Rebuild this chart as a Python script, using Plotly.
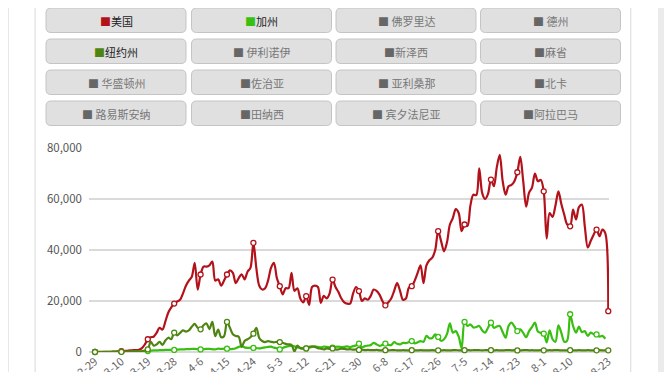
import plotly.graph_objects as go
import pandas as pd

# ---------------- data ----------------
dates = ["2-29"] + [f"{t.month}-{t.day}" for t in pd.date_range("2020-03-02", "2020-08-23")]

us = [
    20, 30, 40, 60, 80, 100, 120, 180, 250, 300,
    400, 500, 650, 700, 750, 900, 1500, 3000, 5000, 5800,
    6000, 7500, 9500, 8800, 12000, 15500, 17500, 19000, 19800, 20500,
    23000, 26000, 28000, 29500, 35000, 24500, 30400, 33500, 33500, 34000,
    35500, 28000, 28500, 26000, 28000, 30400, 32000, 31000, 27000, 29000,
    30500, 28500, 31500, 33000, 42800, 33000, 26000, 24500, 25000, 28000,
    33000, 35000, 29000, 25800, 22600, 25000, 25000, 31000, 24000, 25000,
    21000, 19500, 21900, 18500, 25500, 26000, 25500, 19300, 22000, 21000,
    23000, 28400, 25500, 23500, 21000, 19500, 19000, 19000, 23000, 25500,
    23900, 20000, 21000, 20500, 22000, 24500, 24000, 22500, 20000, 18300,
    19500, 21000, 24000, 27000, 24000, 20500, 21000, 25200, 25800, 28000,
    31000, 34000, 27000, 34000, 36000, 37000, 40000, 47400, 43500, 39500,
    43000, 50000, 52500, 56000, 54500, 47400, 50000, 49500, 57500, 61700,
    61500, 72000, 62400, 60000, 62000, 67600, 65000, 72500, 77300, 67000,
    61700, 65000, 65500, 67000, 70500, 76500, 67000, 57000, 62500, 64500,
    70000, 67000, 67500, 63000, 44500, 54500, 53000, 57500, 63000, 58000,
    53800, 50000, 49300, 55800, 52000, 56800, 57800, 49300, 41000, 43500,
    46000, 48000, 45400, 48000, 46500, 16000]

ca = [
    0, 0, 0, 10, 10, 20, 20, 30, 30, 50,
    60, 80, 100, 120, 150, 200, 250, 300, 400, 500,
    600, 650, 700, 750, 800, 800, 850, 800, 900, 1000,
    1000, 1100, 1100, 1200, 1200, 1100, 1000, 1100, 1200, 1200,
    1100, 1000, 1300, 1200, 1300, 1300, 1100, 1200, 1500, 2000,
    2300, 1800, 1600, 1700, 1600, 1500, 1400, 1600, 1800, 2000,
    2100, 1700, 1500, 1000, 1600, 2000, 2300, 2400, 2200, 1800,
    1600, 1500, 1400, 1700, 2000, 2200, 2000, 1800, 2100, 2000,
    1800, 1700, 2000, 2100, 1900, 2000, 2200, 1900, 2300, 2600,
    3300, 1800, 2300, 2500, 2700, 3600, 3000, 2400, 2800, 3300,
    2800, 2700, 3900, 3200, 3000, 3600, 3500, 3900, 4300, 3400,
    3800, 4300, 4000, 6300, 5400, 5500, 6900, 5900, 4400, 5000,
    7000, 11200, 7600, 8200, 6000, 1500, 11800, 10200, 10800, 9600,
    9800, 10200, 8500, 7600, 9500, 11500, 9500, 10000, 10200, 7800,
    5600, 10200, 11500, 10000, 8200, 8900, 7500, 5800, 8200, 9800,
    11500, 8000, 7500, 7200, 3800, 8500, 5000, 4000, 10500, 7500,
    4000, 4500, 14800, 10200, 7600, 10000, 7800, 8200, 6300, 7600,
    7000, 6900, 6000, 6300, 5200, None]

ny = [
    0, 0, 0, 0, 0, 0, 10, 20, 30, 50,
    80, 100, 150, 200, 250, 300, 400, 600, 1000, 4000,
    2500, 3000, 4000, 2800, 4500, 5600, 5000, 7600, 6500, 7500,
    8500, 8000, 8500, 9900, 11000, 9500, 8900, 10500, 11200, 9000,
    11800, 6200, 8800, 5800, 6200, 11800, 9500, 7000, 6300, 6000,
    2000, 4300, 5000, 5800, 7200, 9500, 5500, 4300, 3900, 4300,
    4000, 3800, 4000, 3900, 3600, 3200, 3000, 2800, 200, 2500,
    1500, 1300, 1400, 2000, 2200, 2000, 1500, 1300, 1000, 1400,
    1200, 1400, 1000, 1000, 1300, 1200, 1000, 1100, 900, 1000,
    800, 900, 700, 800, 750, 700, 800, 650, 700, 700,
    650, 700, 750, 650, 600, 700, 650, 600, 700, 650,
    600, 700, 650, 600, 650, 700, 600, 650, 600, 700,
    650, 600, 700, 750, 650, 600, 700, 750, 650, 700,
    750, 700, 650, 700, 750, 700, 650, 700, 600, 650,
    700, 750, 650, 700, 600, 650, 700, 750, 650, 700,
    600, 650, 700, 650, 600, 700, 650, 750, 700, 650,
    600, 650, 700, 650, 600, 700, 650, 600, 700, 650,
    600, 650, 700, 650, 600, 650]

series_names = ["美国", "加州", "纽约州"]
series_colors = ["#b3121b", "#38bf12", "#4e8510"]

buttons = [
    ["美国", "加州", "佛罗里达", "德州"],
    ["纽约州", "伊利诺伊", "新泽西", "麻省"],
    ["华盛顿州", "佐治亚", "亚利桑那", "北卡"],
    ["路易斯安纳", "田纳西", "宾夕法尼亚", "阿拉巴马"],
]
spaced = {"佛罗里达", "德州", "伊利诺伊", "华盛顿州", "亚利桑那", "路易斯安纳", "宾夕法尼亚"}
active = dict(zip(series_names, series_colors))

y_ticks = [0, 20000, 40000, 60000, 80000]

# ---------------- layout geometry ----------------
# the page adds an 8px body margin; figure is sized/offset to compensate
OFF = 8
W, H = 664, 364
ML, MR, MT, MB = 81, 63, 140, 20
PW, PH = W - ML - MR, H - MT - MB


def px(x):  # page pixel -> paper x
    return (x - OFF - ML) / PW


def py(y):  # page pixel -> paper y
    return (H - MB - (y - OFF)) / PH


FONT = "Noto Sans CJK SC, Noto Sans, sans-serif"

fig = go.Figure()
n = len(dates)
xs = list(range(n))
mark_idx = list(range(0, n, 9))
if mark_idx[-1] != n - 1:
    mark_idx.append(n - 1)

for name, vals, col in [("美国", us, series_colors[0]), ("加州", ca, series_colors[1]), ("纽约州", ny, series_colors[2])]:
    fig.add_trace(go.Scatter(
        x=xs, y=vals, mode="lines", name=name,
        line=dict(color=col, width=2.2, shape="spline", smoothing=0.9),
        hoverinfo="skip", connectgaps=False))
    mx = [i for i in mark_idx if vals[i] is not None]
    fig.add_trace(go.Scatter(
        x=mx, y=[vals[i] for i in mx], mode="markers", cliponaxis=False,
        marker=dict(size=5, color="white", line=dict(color=col, width=1.3)),
        hoverinfo="skip"))

shapes = []


def rect(x0, y0, x1, y1, fill):
    return dict(type="rect", xref="paper", yref="paper",
                x0=px(x0), x1=px(x1), y0=py(y1), y1=py(y0),
                fillcolor=fill, line=dict(width=0), layer="below")


shapes.append(rect(OFF, OFF, 9, H + OFF, "#e8e8e8"))
shapes.append(rect(34.5, OFF, 35.8, H + OFF, "#e2e2e2"))
shapes.append(rect(630, OFF, 631.3, H + OFF, "#e2e2e2"))
shapes.append(rect(658, OFF, W + OFF, H + OFF, "#ebebeb"))


def rounded(x0, y0, x1, y1, r):
    pts = [
        ("M", [(x0 + r, y0)]), ("L", [(x1 - r, y0)]), ("Q", [(x1, y0), (x1, y0 + r)]),
        ("L", [(x1, y1 - r)]), ("Q", [(x1, y1), (x1 - r, y1)]), ("L", [(x0 + r, y1)]),
        ("Q", [(x0, y1), (x0, y1 - r)]), ("L", [(x0, y0 + r)]), ("Q", [(x0, y0), (x0 + r, y0)]),
    ]
    s = ""
    for cmd, ps in pts:
        s += cmd + " ".join(f"{px(a):.5f},{py(b):.5f}" for a, b in ps) + " "
    return s + "Z"


annotations = []
col_x = [46, 191.5, 336, 480.5]
row_y = [8, 39, 70, 101]
bw, bh = 140, 24.5
for r, row in enumerate(buttons):
    for c, label in enumerate(row):
        x0, y0 = col_x[c], row_y[r]
        shapes.append(dict(type="path", xref="paper", yref="paper",
                           path=rounded(x0, y0, x0 + bw, y0 + bh, 5),
                           fillcolor="#e0e0e0", line=dict(color="#c4c4c4", width=1), layer="below"))
        if label in active:
            txt = f"<span style='color:{active[label]}'>■</span>{label}"
            tcol = "#222222"
        else:
            sp = " " if label in spaced else ""
            txt = f"<span style='color:#666666'>■</span>{sp}{label}"
            tcol = "#777777"
        annotations.append(dict(xref="paper", yref="paper", x=px(x0 + bw / 2), y=py(y0 + bh / 2 + 0.5),
                                text=txt, showarrow=False, xanchor="center", yanchor="middle",
                                font=dict(family=FONT, size=11, color=tcol)))

tick_idx = list(range(0, n - 9, 9)) + [n - 1]

fig.update_layout(
    width=W, height=H,
    margin=dict(l=ML, r=MR, t=MT, b=MB, pad=0),
    paper_bgcolor="white", plot_bgcolor="white",
    showlegend=False,
    shapes=shapes, annotations=annotations,
    xaxis=dict(range=[-2.05, 175.25], tickvals=tick_idx, ticktext=[dates[i] for i in tick_idx],
               tickangle=-40, showgrid=False, zeroline=False, showline=False, ticks="",
               tickfont=dict(family=FONT, size=11, color="#666666"), automargin=False),
    yaxis=dict(range=[0, 80000], tickvals=y_ticks, tickformat=",", showgrid=True,
               gridcolor="#dadada", gridwidth=1.5, zeroline=True, zerolinecolor="#dadada",
               zerolinewidth=1.5, showline=False, ticks="", ticklabelstandoff=6,
               tickfont=dict(family=FONT, size=11.5, color="#555555"), automargin=False),
)

fig.write_html("out.html")
